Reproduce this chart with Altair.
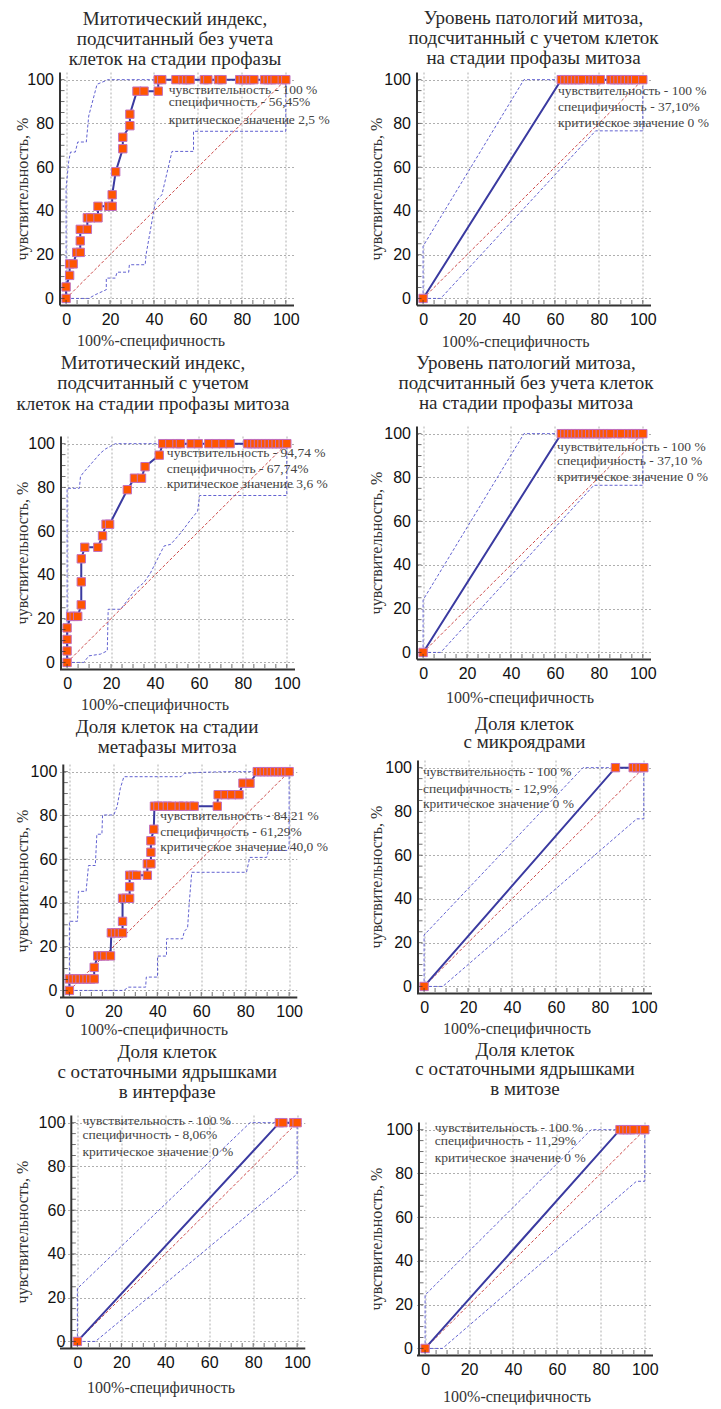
import altair as alt
import pandas as pd

# ---------------- data ----------------
X_TITLE = "100%-специфичность"
Y_TITLE = "чувствительность, %"
TICKS = [0, 20, 40, 60, 80, 100]
MINOR = [0, 5, 10, 15, 20, 25, 30, 35, 40, 45, 50, 55, 60, 65, 70, 75, 80, 85, 90, 95, 100]
DIAG = [0, 100]

# Panel A: Митотический индекс без учета профазы
A_title = ["Митотический индекс,", "подсчитанный без учета", "клеток на стадии профазы"]
A_roc_x = [0, 0, 1.61, 1.61, 3.23, 4.84, 6.45, 6.45, 6.45, 9.68, 9.68, 11.29, 14.52, 14.52, 19.35, 20.97,
           20.97, 22.58, 25.81, 25.81, 29.03, 29.03, 32.26, 35.48, 41.94, 41.94, 43.55, 50.0, 53.23, 54.84,
           56.45, 62.9, 64.52, 69.35, 70.97, 79.03, 80.65, 82.26, 83.87, 85.48, 90.32, 91.94, 93.55, 95.16,
           98.39, 100]
A_roc_y = [0, 5.26, 10.53, 15.79, 15.79, 21.05, 21.05, 26.32, 31.58, 31.58, 36.84, 36.84, 36.84, 42.11,
           42.11, 42.11, 47.37, 57.89, 68.42, 73.68, 78.95, 84.21, 94.74, 94.74, 94.74] + [100] * 21
A_up_x = [0, 0, 1.2, 2.0, 4.2, 5.3, 9.2, 10.3, 14.1, 18.0, 19.0, 100]
A_up_y = [0, 50.5, 62.7, 66.9, 66.9, 71.5, 71.5, 83.4, 97.9, 99.5, 100, 100]
A_lo_x = [0, 10.3, 13.3, 18.3, 18.3, 22.4, 23.2, 28.5, 28.8, 36.0, 36.4, 40.6, 43.6, 48.2, 58.0, 58.0, 100, 100]
A_lo_y = [0, 0, 1.7, 4.0, 9.3, 9.3, 12.0, 12.0, 15.4, 15.4, 20.0, 44.0, 47.4, 67.2, 67.2, 76.4, 76.4, 100]
A_notes = ["чувствительность - 100 %", "специфичность - 56,45%", "критическое значение 2,5 %"]

# Panel B: Уровень патологий с учетом профазы
B_title = ["Уровень патологий митоза,", "подсчитанный с учетом клеток", "на стадии профазы митоза"]
B_roc_x = [0, 62.9, 64.52, 66.13, 67.74, 69.35, 70.97, 72.58, 75.81, 77.42, 79.03, 80.65, 85.48, 87.1,
           88.71, 90.32, 91.94, 93.55, 95.16, 96.77, 100]
B_roc_y = [0] + [100] * 20
B_up_x = [0, 0, 45.9, 100]
B_up_y = [0, 23.9, 100, 100]
B_lo_x = [0, 8.0, 78.5, 100, 100]
B_lo_y = [0, 0, 76.6, 76.6, 100]
B_notes = ["чувствительность - 100 %", "специфичность - 37,10%", "критическое значение  0 %"]

# Panel C: Митотический индекс с учетом профазы
C_title = ["Митотический индекс,", "подсчитанный с учетом", "клеток на стадии профазы митоза"]
C_roc_x = [0, 0, 0, 0, 1.61, 3.23, 4.84, 6.45, 6.45, 6.45, 8.06, 14.0, 16.13, 17.74, 19.35, 27.42, 30.65,
           33.87, 35.48, 41.94, 43.55, 46.77, 50.0, 51.61, 56.45, 59.68, 64.52, 67.74, 70.97, 74.19, 82.26,
           83.87, 85.48, 87.1, 88.71, 90.32, 91.94, 93.55, 95.16, 96.77, 98.39, 100]
C_roc_y = [0, 5.26, 10.53, 15.79, 21.05, 21.05, 21.05, 26.32, 36.84, 47.37, 52.63, 52.63, 57.89, 63.16,
           63.16, 78.95, 84.21, 84.21, 89.47, 94.74] + [100] * 22
C_up_x = [0, 0, 5.6, 6.1, 7.3, 15.2, 17.5, 19.8, 22.0, 100]
C_up_y = [0, 79.6, 79.6, 85.0, 86.6, 95.7, 97.6, 98.8, 100, 100]
C_lo_x = [0, 7.6, 9.9, 15.2, 18.3, 18.7, 24.4, 31.2, 35.0, 38.0, 44.1, 47.2, 51.8, 56.3, 59.4, 60.3, 100, 100]
C_lo_y = [0, 0, 3.0, 3.8, 5.3, 24.3, 24.3, 33.4, 36.5, 41.0, 53.2, 54.0, 59.3, 65.3, 69.1, 76.3, 76.3, 100]
C_notes = ["чувствительность - 94,74 %", "специфичность - 67,74%", "критическое значение  3,6 %"]

# Panel D: Уровень патологий без учета профазы
D_title = ["Уровень патологий митоза,", "подсчитанный без учета клеток", "на стадии профазы митоза"]
D_roc_x = [0, 62.9, 64.52, 66.13, 67.74, 69.35, 70.97, 72.58, 74.19, 75.81, 77.42, 79.03, 80.65, 82.26,
           83.87, 85.48, 88.71, 90.32, 93.55, 95.16, 96.77, 98.39, 100]
D_roc_y = [0] + [100] * 22
D_up_x = [0, 0, 45.9, 100]
D_up_y = [0, 24.0, 100, 100]
D_lo_x = [0, 8.0, 77.7, 100, 100]
D_lo_y = [0, 0, 76.4, 76.4, 100]
D_notes = ["чувствительность - 100 %", "специфичность - 37,10 %", "критическое значение  0 %"]

# Panel E: Доля клеток на стадии метафазы
E_title = ["Доля клеток на стадии", "метафазы митоза"]
E_roc_x = [0, 0, 1.61, 3.23, 4.84, 6.45, 8.06, 9.68, 11.29, 11.29, 12.9, 14.52, 16.13, 18.7, 19.1, 20.97,
           22.58, 24.19, 24.19, 24.19, 25.81, 27.42, 27.42, 27.42, 29.03, 30.65, 35.48, 35.48, 37.1, 37.1,
           37.1, 38.4, 38.71, 40.32, 42.5, 44.6, 46.6, 50.0, 51.9, 54.9, 56.8, 67.3, 67.7, 70.9, 73.9, 77.2,
           79.0, 82.2, 85.5, 87.1, 88.7, 90.3, 91.9, 93.5, 95.2, 96.8, 98.4, 100]
E_roc_y = ([0] + [5.26] * 8 + [10.53] + [15.79] * 4 + [26.32] * 4 + [31.58] + [42.11] * 3 + [47.37]
           + [52.63] * 4 + [57.89] * 2 + [63.16, 68.42, 73.68] + [84.21] * 10 + [89.47] * 4
           + [94.74] * 2 + [100] * 10)
E_up_x = [0, 0, 3.7, 4.1, 7.6, 8.7, 11.8, 12.5, 14.8, 15.1, 20.2, 21.7, 23.2, 24.8, 50.8, 52.3, 60.0, 72.0, 100]
E_up_y = [0, 31.6, 31.6, 45.3, 45.3, 57.1, 57.1, 71.4, 71.4, 80.2, 80.2, 84.0, 92.4, 97.7, 97.7, 99.2, 99.7, 100, 100]
E_lo_x = [0, 24.8, 26.8, 34.7, 35.0, 40.1, 40.1, 44.2, 44.2, 51.5, 52.3, 53.8, 54.6, 55.7, 80.6, 82.1, 89.8,
          90.6, 99.5, 100, 100]
E_lo_y = [0, 0, 1.5, 1.5, 6.1, 6.1, 15.7, 15.7, 23.6, 23.6, 27.0, 28.6, 40.7, 54.0, 54.0, 60.8, 60.8, 64.0,
          64.0, 66.0, 100]
E_notes = ["чувствительность - 84,21 %", "специфичность - 61,29%", "критическое значение  40,0 %"]

# Panel F: Доля клеток с микроядрами
F_title = ["Доля клеток", "с микроядрами"]
F_roc_x = [0, 87.1, 95.16, 96.77, 98.39, 100]
F_roc_y = [0, 100, 100, 100, 100, 100]
F_up_x = [0, 0, 72.3, 100]
F_up_y = [0, 23.5, 100, 100]
F_lo_x = [0, 8.5, 96.8, 100, 100]
F_lo_y = [0, 0, 76.6, 76.6, 100]
F_notes = ["чувствительность - 100 %", "специфичность - 12,9%", "критическое значение  0 %"]

# Panel G: остаточные ядрышки в интерфазе
G_title = ["Доля клеток", "с остаточными ядрышками", "в интерфазе"]
G_roc_x = [0, 91.94, 93.55, 98.39, 100]
G_roc_y = [0, 100, 100, 100, 100]
G_up_x = [0, 0, 78.6, 100]
G_up_y = [0, 24.2, 100, 100]
G_lo_x = [0, 8.2, 100, 100]
G_lo_y = [0, 0, 76.5, 100]
G_notes = ["чувствительность - 100 %", "специфичность - 8,06%", "критическое значение  0 %"]

# Panel H: остаточные ядрышки в митозе
H_title = ["Доля клеток", "с остаточными ядрышками", "в митозе"]
H_roc_x = [0, 88.71, 90.32, 91.94, 93.55, 95.16, 98.39, 100]
H_roc_y = [0] + [100] * 7
H_up_x = [0, 0, 75.6, 100]
H_up_y = [0, 24.4, 100, 100]
H_lo_x = [0, 7.9, 96.2, 100, 100]
H_lo_y = [0, 0, 76.4, 76.4, 100]
H_notes = ["чувствительность - 100 %", "специфичность - 11,29%", "критическое значение  0 %"]

# ---------------- styling / layout ----------------
LO, HI = -3, 103.5
W, H = 234, 233
PXU = W / (HI - LO)          # pixels per unit
SERIF = "'Liberation Serif', 'Times New Roman', Times, 'DejaVu Serif', serif"
SANS = "'Liberation Sans', Arial, Helvetica, sans-serif"


def ldf(xs, ys):
    return pd.DataFrame({"x": xs, "y": ys, "i": list(range(len(xs)))})


def panel(title, rx, ry, ux, uy, lx, ly, notes, st):
    d = st["d"]  # extra left shift of the axes inside the column, px
    xsc = alt.Scale(domain=[LO - d / PXU, HI], nice=False, zero=False)
    ysc = alt.Scale(domain=[LO, HI], nice=False, zero=False)
    xax = alt.Axis(values=TICKS, title=X_TITLE, titleY=st["xty"], titleX=st["xtx"], titleAlign="center",
                   titleBaseline="middle", labelFlush=False, labelPadding=6)
    yax = alt.Axis(values=TICKS, title=Y_TITLE, titleX=st["ytx"] - d, titleBaseline="middle",
                   labelFlush=False, labelPadding=6, offset=-d)
    X = alt.X("x:Q", scale=xsc, axis=xax)
    Y = alt.Y("y:Q", scale=ysc, axis=yax)

    band = pd.concat([ldf(ux, uy).assign(k="u"), ldf(lx, ly).assign(k="l")], ignore_index=True)
    bands = alt.Chart(band).mark_line(color="#5050cc", strokeDash=[3, 2], strokeWidth=0.9).encode(
        X, Y, detail="k:N", order="i:Q")
    diag = alt.Chart(ldf(DIAG, DIAG)).mark_line(color="#cc4a4a", strokeDash=[3, 2], strokeWidth=1.0).encode(
        X, Y, order="i:Q")
    roc = alt.Chart(ldf(rx, ry)).mark_line(color="#3a3aa0", strokeWidth=2).encode(X, Y, order="i:Q")
    pts = alt.Chart(ldf(rx, ry)).mark_square(size=70, fill="#ff5500", stroke="#c070c0", strokeWidth=1,
                                             opacity=1).encode(X, Y)
    nd = pd.DataFrame({"x": [st["nx"]] * 3, "y": st["ny"], "t": notes})
    txt = alt.Chart(nd).mark_text(align="left", baseline="middle", font=SERIF, fontSize=13.5,
                                  color="#444444").encode(X, Y, text="t:N")
    mt = pd.DataFrame({"v": MINOR})
    ytk = alt.Chart(mt).mark_tick(color="#333333", thickness=1, size=4).encode(
        y=alt.Y("v:Q", scale=ysc, axis=yax), x=alt.value(3 + d))
    xtk = alt.Chart(mt).mark_tick(color="#333333", thickness=1, size=4).encode(
        x=alt.X("v:Q", scale=xsc, axis=xax), y=alt.value(H - 3))
    return alt.layer(bands, diag, roc, pts, txt, ytk, xtk).properties(
        width=W + d, height=H,
        title=alt.TitleParams(text=title, font=SERIF, fontSize=19, fontWeight="normal", color="#2a2a2a",
                              offset=st["toff"], dx=st["tdx"], lineHeight=st["tlh"], anchor="middle",
                              frame="group"))


YTL = -36.6   # y-axis title position, left column
YTR = -40.4   # y-axis title position, right column
ST = {
    "A": dict(d=0, xty=35.4, xtx=91, ytx=YTL, toff=3, tdx=-1.5, tlh=20, nx=46.7, ny=[95.4, 89.8, 81.7]),
    "C": dict(d=1, xty=35.4, xtx=95, ytx=YTL, toff=22, tdx=-24, tlh=20.5, nx=45.4, ny=[95.7, 88.4, 81.6]),
    "E": dict(d=3.3, xty=32.4, xtx=94, ytx=YTL, toff=7, tdx=-11, tlh=20, nx=41.3, ny=[79.8, 72.6, 65.5]),
    "G": dict(d=11.3, xty=39.4, xtx=101, ytx=YTL, toff=12, tdx=-15, tlh=20, nx=2.3, ny=[100.8, 94.4, 86.8]),
    "B": dict(d=0, xty=36.4, xtx=98.6, ytx=YTR, toff=4, tdx=0, tlh=20, nx=61.4, ny=[94.6, 87.6, 80.0]),
    "D": dict(d=0, xty=38.4, xtx=103, ytx=YTR, toff=13, tdx=-7.5, tlh=20, nx=61.0, ny=[93.9, 87.4, 80.2]),
    "F": dict(d=1, xty=35.4, xtx=100, ytx=YTR, toff=8, tdx=-9.5, tlh=18, nx=-0.5, ny=[98.0, 90.4, 83.5]),
    "H": dict(d=2, xty=41.4, xtx=100, ytx=YTR, toff=22, tdx=-9.5, tlh=19.5, nx=4.4, ny=[100.9, 94.8, 87.2]),
}

pA = panel(A_title, A_roc_x, A_roc_y, A_up_x, A_up_y, A_lo_x, A_lo_y, A_notes, ST["A"])
pB = panel(B_title, B_roc_x, B_roc_y, B_up_x, B_up_y, B_lo_x, B_lo_y, B_notes, ST["B"])
pC = panel(C_title, C_roc_x, C_roc_y, C_up_x, C_up_y, C_lo_x, C_lo_y, C_notes, ST["C"])
pD = panel(D_title, D_roc_x, D_roc_y, D_up_x, D_up_y, D_lo_x, D_lo_y, D_notes, ST["D"])
pE = panel(E_title, E_roc_x, E_roc_y, E_up_x, E_up_y, E_lo_x, E_lo_y, E_notes, ST["E"])
pF = panel(F_title, F_roc_x, F_roc_y, F_up_x, F_up_y, F_lo_x, F_lo_y, F_notes, ST["F"])
pG = panel(G_title, G_roc_x, G_roc_y, G_up_x, G_up_y, G_lo_x, G_lo_y, G_notes, ST["G"])
pH = panel(H_title, H_roc_x, H_roc_y, H_up_x, H_up_y, H_lo_x, H_lo_y, H_notes, ST["H"])

colL = alt.vconcat(pA, pC, pE, pG, spacing=4)
colR = alt.vconcat(alt.vconcat(pB, pD, spacing=3), alt.vconcat(pF, pH, spacing=3), spacing=8)

chart = alt.hconcat(colL, colR, spacing=36).properties(
    padding={"left": 6.5, "top": 0, "right": 0, "bottom": 0}
).configure_view(stroke=None).configure_axis(
    domainColor="#333333", domainWidth=2, ticks=False,
    labelFont=SANS, labelFontSize=16, labelColor="#111111",
    gridColor="#9a9a9a", gridDash=[2, 2], gridWidth=0.8,
    titleFont=SERIF, titleFontSize=16, titleFontWeight="normal", titleColor="#333333",
)

chart.save("out.html", embed_options={"renderer": "svg", "actions": False})
